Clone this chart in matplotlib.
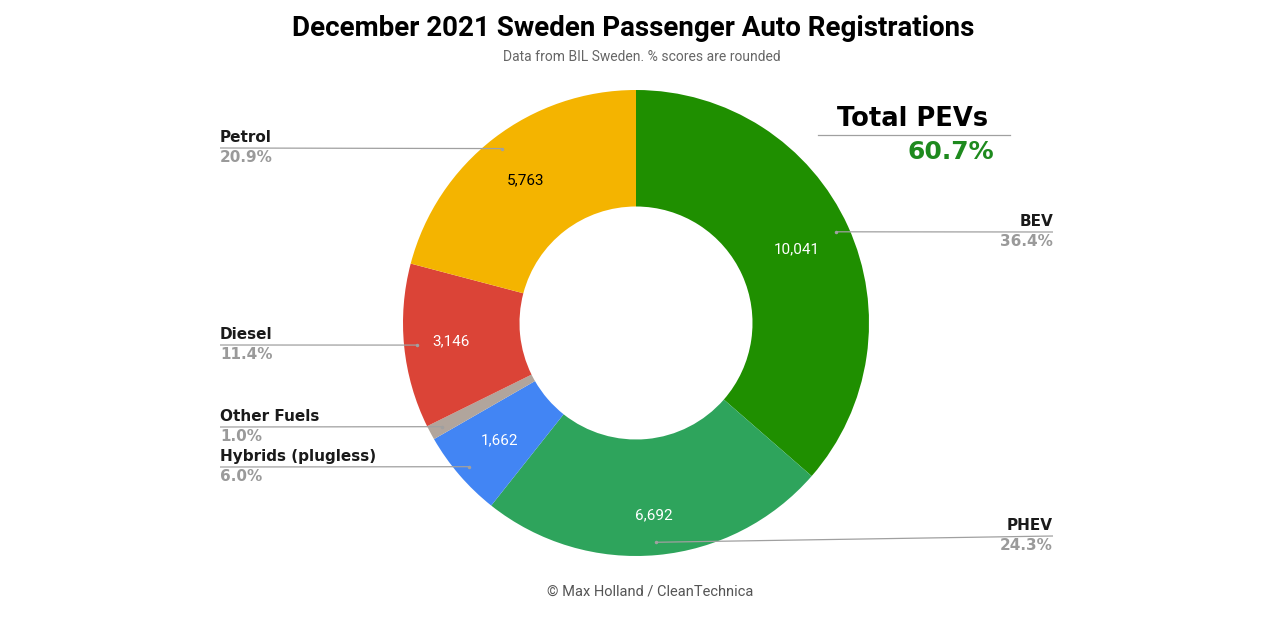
import matplotlib.pyplot as plt
import numpy as np

# data
categories = ['BEV', 'PHEV', 'Hybrids (plugless)', 'Other Fuels', 'Diesel', 'Petrol']
registrations = [10041, 6692, 1662, 276, 3146, 5763]
pct_labels = ['36.4%', '24.3%', '6.0%', '1.0%', '11.4%', '20.9%']
colors = ['#1f8f00', '#2ea45c', '#4285f4', '#b1a59c', '#db4437', '#f4b400']
value_colors = ['white', 'white', 'white', 'white', 'white', 'black']
total_pev = '60.7%'

W, H = 1280, 620
fig = plt.figure(figsize=(12.8, 6.2), dpi=100)
ax = fig.add_axes([0, 0, 1, 1])
ax.set_xlim(0, W)
ax.set_ylim(0, H)
ax.axis('off')

cx, cy, R = 636, H - 323, 233
total = sum(registrations)


def fmt(p):
    if p < 3:
        return ''
    return '{:,}'.format(int(round(p * total / 100.0)))


wedges, _, autotexts = ax.pie(registrations, colors=colors, startangle=90, counterclock=False,
                              radius=R, center=(cx, cy), autopct=fmt, pctdistance=0.775,
                              wedgeprops=dict(width=R * 0.5, linewidth=0),
                              textprops=dict(family='Roboto', fontsize=11))
ax.set_xlim(0, W)
ax.set_ylim(0, H)
ax.set_aspect('equal')

# value label radius tweaks (fraction of outer radius)
value_dist = [0.76, 0.83, 0.77, 0.77, 0.8, 0.775]
for w, t, c, d in zip(wedges, autotexts, value_colors, value_dist):
    t.set_color(c)
    mid = np.deg2rad((w.theta1 + w.theta2) / 2)
    t.set_position((cx + d * R * np.cos(mid), cy + d * R * np.sin(mid)))

# label layout: (side, label line y in pixels from top)
label_pos = {
    'BEV': ('right', 232),
    'PHEV': ('right', 536),
    'Hybrids (plugless)': ('left', 467),
    'Other Fuels': ('left', 427),
    'Diesel': ('left', 345),
    'Petrol': ('left', 148),
}
left_x, right_x = 220, 1053
line_col = '#a0a0a0'

for w, name, pct in zip(wedges, categories, pct_labels):
    side, ly = label_pos[name]
    ly = H - ly
    mid = np.deg2rad((w.theta1 + w.theta2) / 2)
    dx = cx + 0.945 * R * np.cos(mid)
    dy = cy + 0.945 * R * np.sin(mid)
    lx = left_x if side == 'left' else right_x
    ax.plot([lx, dx], [ly, dy], color=line_col, lw=0.9, solid_capstyle='butt')
    ax.plot([dx], [dy], 'o', color=line_col, ms=1.5)
    ha = 'left' if side == 'left' else 'right'
    ax.text(lx, ly + 3, name, ha=ha, va='bottom', fontsize=11, fontweight='heavy',
            family='DejaVu Sans', color='#1a1a1a')
    ax.text(lx, ly - 2, pct, ha=ha, va='top', fontsize=11, fontweight='heavy',
            family='DejaVu Sans', color='#9a9a9a')

# Total PEVs box
ax.text(913, H - 119, 'Total PEVs', ha='center', va='center', fontsize=18.5, fontweight='heavy',
        family='DejaVu Sans', color='black')
ax.plot([818, 1010], [H - 135, H - 135], color=line_col, lw=0.9)
ax.text(994, H - 152, total_pev, ha='right', va='center', fontsize=18, fontweight='heavy',
        family='DejaVu Sans', color='#1e8a1e')

# titles
ax.text(633, H - 29, 'December 2021 Sweden Passenger Auto Registrations', ha='center', va='center',
        fontsize=20, fontweight='bold', family='Roboto', color='black')
ax.text(642, H - 57, 'Data from BIL Sweden. % scores are rounded', ha='center', va='center',
        fontsize=10, family='Roboto', color='#666666')
ax.text(650, H - 591, '\u00a9 Max Holland / CleanTechnica', ha='center', va='center',
        fontsize=10.5, family='Roboto', color='#555555')

fig.savefig('out.png', dpi=100, facecolor='white')
